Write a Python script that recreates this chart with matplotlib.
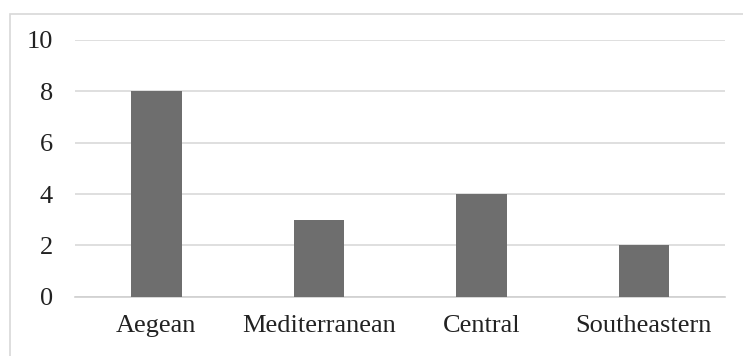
import matplotlib.pyplot as plt
from matplotlib.patches import Rectangle

# regions and counts
regions = ['Aegean', 'Mediterranean', 'Central', 'Southeastern']
counts = [8, 3, 4, 2]
y_ticks = [0, 2, 4, 6, 8, 10]

plt.rcParams['font.family'] = ['Liberation Serif', 'DejaVu Serif']

fig = plt.figure(figsize=(7.43, 3.56), dpi=100)
ax = fig.add_axes([0.101, 0.166, 0.875, 0.722])

# light frame round the whole chart
fig.patches.append(Rectangle((10 / 743, -0.01), 740 / 743, 346 / 356,
                             transform=fig.transFigure, fill=False,
                             edgecolor='#d8d8d8', linewidth=1.2))

ax.bar(range(len(regions)), counts, width=0.31, color='#6e6e6e', zorder=3)

ax.set_xlim(-0.5, len(regions) - 0.5)
ax.set_ylim(0, 10)
ax.set_yticks(y_ticks)
ax.set_xticks(range(len(regions)))
ax.set_xticklabels(regions)
ax.grid(axis='y', color='#d9d9d9', linewidth=1.2, zorder=0)
ax.tick_params(axis='both', length=0, labelsize=19, colors='#222222')
ax.tick_params(axis='y', pad=16)
ax.tick_params(axis='x', pad=13)
for side in ['top', 'right', 'left']:
    ax.spines[side].set_visible(False)
ax.spines['bottom'].set_color('#d0d0d0')
ax.spines['bottom'].set_linewidth(1.2)

fig.savefig('out.png', dpi=100)
